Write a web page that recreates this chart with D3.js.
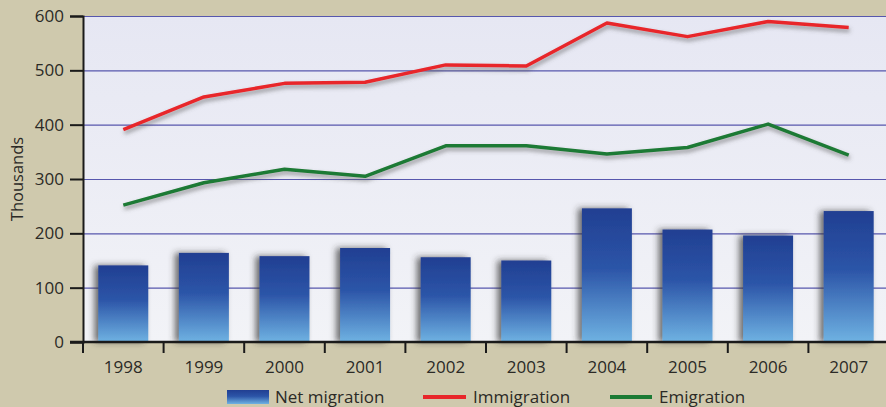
<!DOCTYPE html>
<html>
<head>
<meta charset="utf-8" />
<title>Net migration, immigration and emigration</title>
<script src="https://cdn.jsdelivr.net/npm/d3@7"></script>
<style>
  body { margin: 0; background: #cfc9ad; }
  svg { display: block; }
  text { font-family: "Open Sans", "Noto Sans", sans-serif; fill: #2b2a26; }
</style>
</head>
<body>
<div id="chart"></div>
<script>
// data (thousands)
var years = ["1998", "1999", "2000", "2001", "2002", "2003", "2004", "2005", "2006", "2007"];
var netMigration = [141, 164, 158, 173, 156, 150, 246, 207, 196, 241];
var immigration = [391, 451, 476, 478, 510, 508, 587, 562, 590, 579];
var emigration = [252, 293, 318, 305, 361, 361, 346, 358, 401, 344];
var yTicks = [0, 100, 200, 300, 400, 500, 600];

var width = 886, height = 407;
var margin = { top: 16, right: -3, bottom: 65, left: 83 };

var svg = d3.select("#chart").append("svg")
  .attr("width", width)
  .attr("height", height);

var defs = svg.append("defs");

// bar gradient, dark blue on top fading to light blue
var grad = defs.append("linearGradient")
  .attr("id", "barGrad")
  .attr("x1", 0).attr("y1", 0).attr("x2", 0).attr("y2", 1);
grad.append("stop").attr("offset", "0%").attr("stop-color", "#213f92");
grad.append("stop").attr("offset", "45%").attr("stop-color", "#2c55a8");
grad.append("stop").attr("offset", "100%").attr("stop-color", "#6fb2e2");

var bgGrad = defs.append("linearGradient")
  .attr("id", "bgGrad")
  .attr("x1", 0).attr("y1", 0).attr("x2", 0).attr("y2", 1);
bgGrad.append("stop").attr("offset", "0%").attr("stop-color", "#e6e7f3");
bgGrad.append("stop").attr("offset", "100%").attr("stop-color", "#f2f3f7");

var lineShadow = defs.append("filter").attr("id", "lineShadow")
  .attr("x", "-5%").attr("y", "-20%").attr("width", "110%").attr("height", "140%");
lineShadow.append("feDropShadow")
  .attr("dx", 1).attr("dy", 3).attr("stdDeviation", 2)
  .attr("flood-color", "#555").attr("flood-opacity", 0.6);

var barShadow = defs.append("filter").attr("id", "barShadow")
  .attr("x", "-30%").attr("y", "-10%").attr("width", "140%").attr("height", "120%");
barShadow.append("feDropShadow")
  .attr("dx", -4).attr("dy", 0).attr("stdDeviation", 3)
  .attr("flood-color", "#333").attr("flood-opacity", 0.7);

var x = d3.scaleBand()
  .domain(years)
  .range([margin.left, width - margin.right])
  .paddingInner(0.38)
  .paddingOuter(0.19);

var y = d3.scaleLinear()
  .domain([0, 600])
  .range([height - margin.bottom, margin.top]);

// plot background
svg.append("rect")
  .attr("x", margin.left)
  .attr("y", y(600))
  .attr("width", width - margin.left)
  .attr("height", y(0) - y(600))
  .attr("fill", "url(#bgGrad)");

// gridlines
svg.append("g")
  .selectAll("line")
  .data(yTicks.filter(function(d) { return d > 0; }))
  .join("line")
  .attr("x1", margin.left)
  .attr("x2", width)
  .attr("y1", function(d) { return y(d) + 0.5; })
  .attr("y2", function(d) { return y(d) + 0.5; })
  .attr("stroke", "#5757ad")
  .attr("stroke-width", 1.2);

// bars
svg.append("g")
  .selectAll("rect")
  .data(netMigration)
  .join("rect")
  .attr("x", function(d, i) { return x(years[i]); })
  .attr("y", function(d) { return y(d); })
  .attr("width", x.bandwidth())
  .attr("height", function(d) { return y(0) - y(d); })
  .attr("fill", "url(#barGrad)")
  .attr("filter", "url(#barShadow)");

var line = d3.line()
  .x(function(d, i) { return x(years[i]) + x.bandwidth() / 2; })
  .y(function(d) { return y(d); });

svg.append("path")
  .datum(emigration)
  .attr("d", line)
  .attr("fill", "none")
  .attr("stroke", "#1c7a34")
  .attr("stroke-width", 3.5)
  .attr("stroke-linejoin", "round")
  .attr("filter", "url(#lineShadow)");

svg.append("path")
  .datum(immigration)
  .attr("d", line)
  .attr("fill", "none")
  .attr("stroke", "#e8262a")
  .attr("stroke-width", 3.5)
  .attr("stroke-linejoin", "round")
  .attr("filter", "url(#lineShadow)");

// y axis
var yAxis = svg.append("g")
  .attr("transform", "translate(" + margin.left + ",0)")
  .call(d3.axisLeft(y).tickValues(yTicks).tickSize(13).tickPadding(6));
yAxis.select(".domain").attr("stroke", "#1a1a1a").attr("stroke-width", 2);
yAxis.selectAll(".tick line").attr("stroke", "#1a1a1a").attr("stroke-width", 2);
yAxis.selectAll(".tick text")
  .attr("font-size", 17)
  .style("font-family", "'Open Sans', sans-serif")
  .attr("fill", "#2b2a26");

// x axis
svg.append("line")
  .attr("x1", margin.left - 13)
  .attr("x2", width)
  .attr("y1", y(0))
  .attr("y2", y(0))
  .attr("stroke", "#1a1a1a")
  .attr("stroke-width", 2.5);

svg.append("g")
  .selectAll("line")
  .data(years)
  .join("line")
  .attr("x1", function(d) { return x(d) - x.step() * x.paddingInner() / 2; })
  .attr("x2", function(d) { return x(d) - x.step() * x.paddingInner() / 2; })
  .attr("y1", y(0))
  .attr("y2", y(0) + 11)
  .attr("stroke", "#1a1a1a")
  .attr("stroke-width", 2);

svg.append("g")
  .selectAll("text")
  .data(years)
  .join("text")
  .attr("x", function(d) { return x(d) + x.bandwidth() / 2; })
  .attr("y", y(0) + 31)
  .attr("text-anchor", "middle")
  .attr("font-size", 17)
  .text(function(d) { return d; });

// y axis title
svg.append("text")
  .attr("transform", "translate(23," + (y(0) + y(600)) / 2 + ") rotate(-90)")
  .attr("text-anchor", "middle")
  .attr("font-size", 16.5)
  .text("Thousands");

// legend
var legend = svg.append("g");
legend.append("rect")
  .attr("x", 227).attr("y", 390)
  .attr("width", 42).attr("height", 14)
  .attr("fill", "url(#barGrad)");
legend.append("text")
  .attr("x", 275).attr("y", 403)
  .attr("font-size", 17)
  .text("Net migration");

legend.append("line")
  .attr("x1", 423).attr("x2", 466)
  .attr("y1", 397).attr("y2", 397)
  .attr("stroke", "#e8262a").attr("stroke-width", 4);
legend.append("text")
  .attr("x", 473).attr("y", 403)
  .attr("font-size", 17)
  .text("Immigration");

legend.append("line")
  .attr("x1", 610).attr("x2", 652)
  .attr("y1", 397).attr("y2", 397)
  .attr("stroke", "#1c7a34").attr("stroke-width", 4);
legend.append("text")
  .attr("x", 659).attr("y", 403)
  .attr("font-size", 17)
  .text("Emigration");
</script>
</body>
</html>
